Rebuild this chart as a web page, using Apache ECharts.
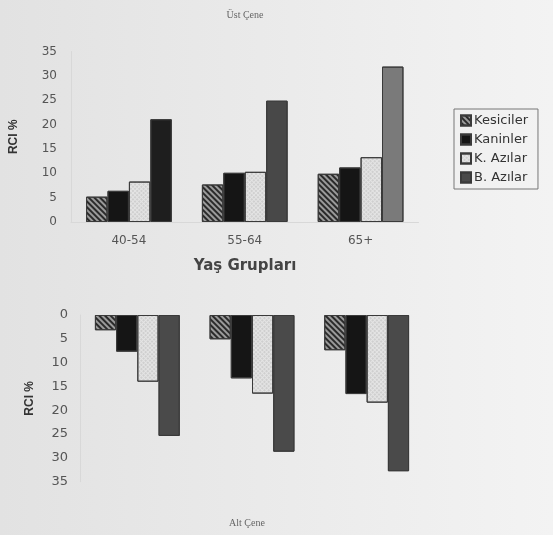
<!DOCTYPE html>
<html>
<head>
<meta charset="utf-8">
<script src="https://cdn.jsdelivr.net/npm/echarts@6/dist/echarts.min.js"></script>
<style>
html,body{margin:0;padding:0;background:#ececec;}
#c{width:553px;height:535px;}
</style>
</head>
<body>
<div id="c"></div>
<script>
var categories = ['40-54', '55-64', '65+'];
var seriesNames = ['Kesiciler', 'Kaninler', 'K. Azılar', 'B. Azılar'];
// Üst Çene (upper jaw)
var ustKesiciler = [5.2, 7.7, 9.9];
var ustKaninler = [6.4, 10.1, 11.2];
var ustKAzilar = [8.3, 10.3, 13.3];
var ustBAzilar = [21.1, 24.9, 31.9];
// Alt Çene (lower jaw)
var altKesiciler = [3.2, 5.1, 7.4];
var altKaninler = [7.7, 13.3, 16.6];
var altKAzilar = [14.0, 16.5, 18.4];
var altBAzilar = [25.4, 28.7, 32.8];
var yTicks = ['0', '5', '10', '15', '20', '25', '30', '35'];

var upper = [ustKesiciler, ustKaninler, ustKAzilar, ustBAzilar];
var lower = [altKesiciler, altKaninler, altKAzilar, altBAzilar];

var styles = [
  {color: '#9a9a9a', decal: {symbol: 'rect', symbolSize: 1, dashArrayX: [[1, 0]], dashArrayY: [2, 2], rotation: Math.PI / 4, color: '#2a2a2a'}},
  {color: '#151515', decal: {symbol: 'none'}},
  {color: '#e4e4e4', decal: {symbol: 'circle', symbolSize: 0.7, dashArrayX: [2, 1], dashArrayY: [2, 1], color: '#a8a8a8'}},
  {color: '#4a4a4a', decal: {symbol: 'rect', symbolSize: 1, dashArrayX: [1, 2], dashArrayY: [[1, 0]], color: '#707070'}}
];
var upperBShades = ['#1e1e1e', '#484848', '#7a7a7a'];

var chart = echarts.init(document.getElementById('c'));
var font = '"DejaVu Sans", Arial, sans-serif';
var labelStyle = {fontFamily: font, fontSize: 12, fontWeight: 'bold', color: '#666'};

function yAxisCfg(idx, inverse, gap, margin, fs) {
  return {
    type: 'value', gridIndex: idx, min: 0, max: 35, interval: 5, inverse: inverse,
    name: 'RCI %', nameLocation: 'middle', nameGap: gap, nameRotate: 90,
    nameTextStyle: {fontFamily: 'Arial, "Liberation Sans", sans-serif', fontSize: 12, fontWeight: 'bold', color: '#333'},
    axisLine: {show: true, lineStyle: {color: '#d8d8d8'}},
    axisTick: {show: false},
    splitLine: {show: false},
    axisLabel: Object.assign({}, labelStyle, {margin: margin, fontSize: fs, fontWeight: 'normal', color: '#555', formatter: function (v) { return yTicks[v / 5]; }})
  };
}

var series = [];
seriesNames.forEach(function (n, i) {
  series.push({
    name: n, type: 'bar', xAxisIndex: 0, yAxisIndex: 0,
    barGap: '0%', barCategoryGap: '26%',
    itemStyle: {color: styles[i].color, decal: styles[i].decal, borderColor: '#3a3a3a', borderWidth: 1},
    data: upper[i].map(function (v, j) {
      return i === 3 ? {value: v, itemStyle: {color: upperBShades[j]}} : v;
    })
  });
});
seriesNames.forEach(function (n, i) {
  series.push({
    name: n, type: 'bar', xAxisIndex: 1, yAxisIndex: 1,
    barGap: '0%', barCategoryGap: '26%',
    itemStyle: {color: styles[i].color, decal: styles[i].decal, borderColor: '#3a3a3a', borderWidth: 1},
    data: lower[i]
  });
});

chart.setOption({
  backgroundColor: {type: 'linear', x: 0, y: 0, x2: 1, y2: 0, colorStops: [{offset: 0, color: '#e2e2e2'}, {offset: 1, color: '#f3f3f3'}]},
  aria: {enabled: true, decal: {show: true}},
  animation: false,
  grid: [
    {left: 71, right: 134.5, top: 51.5, height: 170.5},
    {left: 80, right: 129, top: 315, height: 166.7}
  ],
  legend: {
    data: seriesNames, orient: 'vertical', left: 454, top: 109,
    icon: 'rect',
    itemWidth: 10, itemHeight: 10, itemGap: 6,
    padding: [5, 10, 5, 6],
    borderColor: '#777', borderWidth: 1,
    textStyle: {fontFamily: '"DejaVu Sans", sans-serif', fontSize: 13, color: '#333', padding: [0, 0, 0, -2]}
  },
  xAxis: [
    {type: 'category', gridIndex: 0, data: categories,
      axisLine: {show: true, lineStyle: {color: '#d8d8d8'}}, axisTick: {show: false},
      axisLabel: Object.assign({}, labelStyle, {margin: 13, fontWeight: 'normal', color: '#555'})},
    {type: 'category', gridIndex: 1, data: categories, position: 'top',
      axisLine: {show: false}, axisTick: {show: false}, axisLabel: {show: false}}
  ],
  yAxis: [yAxisCfg(0, false, 51, 14, 12), yAxisCfg(1, true, 44, 12, 13)],
  graphic: [
    {type: 'text', x: 245, y: 15, style: {text: 'Üst Çene', textAlign: 'center', textVerticalAlign: 'middle', font: '10px "Liberation Serif", serif', fill: '#666'}},
    {type: 'text', x: 245, y: 266, style: {text: 'Yaş Grupları', textAlign: 'center', textVerticalAlign: 'middle', font: 'bold 15px "DejaVu Sans", sans-serif', fill: '#444'}},
    {type: 'text', x: 247, y: 523, style: {text: 'Alt Çene', textAlign: 'center', textVerticalAlign: 'middle', font: '10px "Liberation Serif", serif', fill: '#666'}}
  ],
  series: series
});
</script>
</body>
</html>
